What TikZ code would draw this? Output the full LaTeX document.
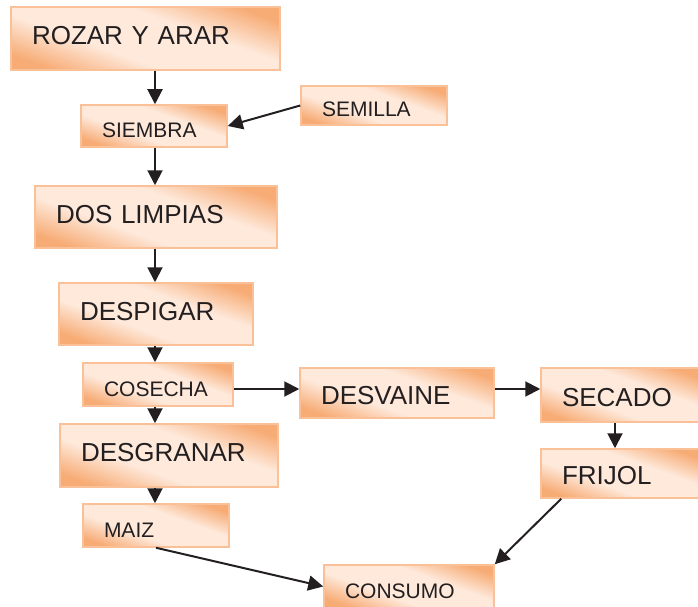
\documentclass[tikz,border=0pt]{standalone}
\usepackage{fontspec}
\setmainfont{Liberation Sans}
\usepackage{tikz}
\usetikzlibrary{arrows.meta,positioning,calc}
\definecolor{orangedark}{RGB}{247,172,118}
\definecolor{orangelight}{RGB}{254,233,219}
\definecolor{orangeline}{RGB}{250,192,152}
\definecolor{inkblack}{RGB}{35,31,32}
\pgfdeclareverticalshading{stageshade}{100bp}{color(0bp)=(orangedark); color(24bp)=(orangedark); color(40bp)=(orangelight); color(60bp)=(orangelight); color(76bp)=(orangedark); color(100bp)=(orangedark)}

\begin{document}
\begin{tikzpicture}[x=1pt,y=-1pt]

    \tikzstyle{every edge}=[-{Triangle[length=15pt,width=15pt]},draw=inkblack,line width=2pt]
    \tikzstyle{stage}=[draw=orangeline,line width=1.5pt,shading=stageshade,shading angle=-20,inner xsep=21pt,inner ysep=0pt,align=left,text=inkblack]
    \tikzstyle{bigbox}=[stage,font=\fontsize{26}{30}\selectfont,text height=18.6pt,text depth=6pt]
    \tikzstyle{midbox}=[stage,font=\fontsize{26}{30}\selectfont,text height=22pt,text depth=0pt]
    \tikzstyle{smallbox}=[stage,font=\fontsize{21}{25}\selectfont,text height=23pt,text depth=0pt]

    \useasboundingbox (0,0) rectangle (698,607);

    \node[bigbox, minimum width=269pt, minimum height=63pt, text width=227pt] (rozar) at (145.5,38.5) {ROZAR Y ARAR};
    \node[smallbox, minimum width=146pt, minimum height=42pt, text width=104pt] (siembra) at (154,126) {SIEMBRA};
    \node[smallbox, minimum width=146pt, minimum height=39pt, text width=104pt] (semilla) at (374,105.5) {SEMILLA};
    \node[bigbox, minimum width=242pt, minimum height=62pt, text width=200pt] (limpias) at (156,217) {DOS LIMPIAS};
    \node[bigbox, minimum width=194pt, minimum height=62pt, text width=152pt] (despigar) at (156,314) {DESPIGAR};
    \node[smallbox, minimum width=150pt, minimum height=43pt, text width=108pt] (cosecha) at (158,384.5) {COSECHA};
    \node[midbox, minimum width=194pt, minimum height=50pt, text width=152pt] (desvaine) at (397,393) {DESVAINE};
    \node[midbox, minimum width=161pt, minimum height=54pt, text width=119pt] (secado) at (621.5,395) {SECADO};
    \node[bigbox, minimum width=218pt, minimum height=63pt, text width=176pt] (desgranar) at (169,455.5) {DESGRANAR};
    \node[midbox, minimum width=161pt, minimum height=49pt, text width=119pt] (frijol) at (621.5,473.5) {FRIJOL};
    \node[smallbox, minimum width=146pt, minimum height=43pt, text width=104pt] (maiz) at (156,525.5) {MAIZ};
    \node[smallbox, minimum width=170pt, minimum height=43pt, text width=128pt] (consumo) at (409,586.5) {CONSUMO};

    \coordinate (spine) at (155,0);
    \coordinate (row) at (0,389);
    \coordinate (drop) at (615,0);

    \path (rozar.south -| spine) edge (siembra.north -| spine);
    \path (semilla.west) edge (siembra.east);
    \path (siembra.south -| spine) edge (limpias.north -| spine);
    \path (limpias.south -| spine) edge (despigar.north -| spine);
    \path (despigar.south -| spine) edge (cosecha.north -| spine);
    \path (cosecha.south -| spine) edge (desgranar.north -| spine);
    \path (desgranar.south -| spine) edge (maiz.north -| spine);
    \path (cosecha.east |- row) edge (desvaine.west |- row);
    \path (desvaine.east |- row) edge (secado.west |- row);
    \path (secado.south -| drop) edge (frijol.north -| drop);
    \path ([xshift=21pt]frijol.south west) edge (consumo.north east);
    \path (maiz.south) edge (consumo.west);
 \end{tikzpicture}
\end{document}
